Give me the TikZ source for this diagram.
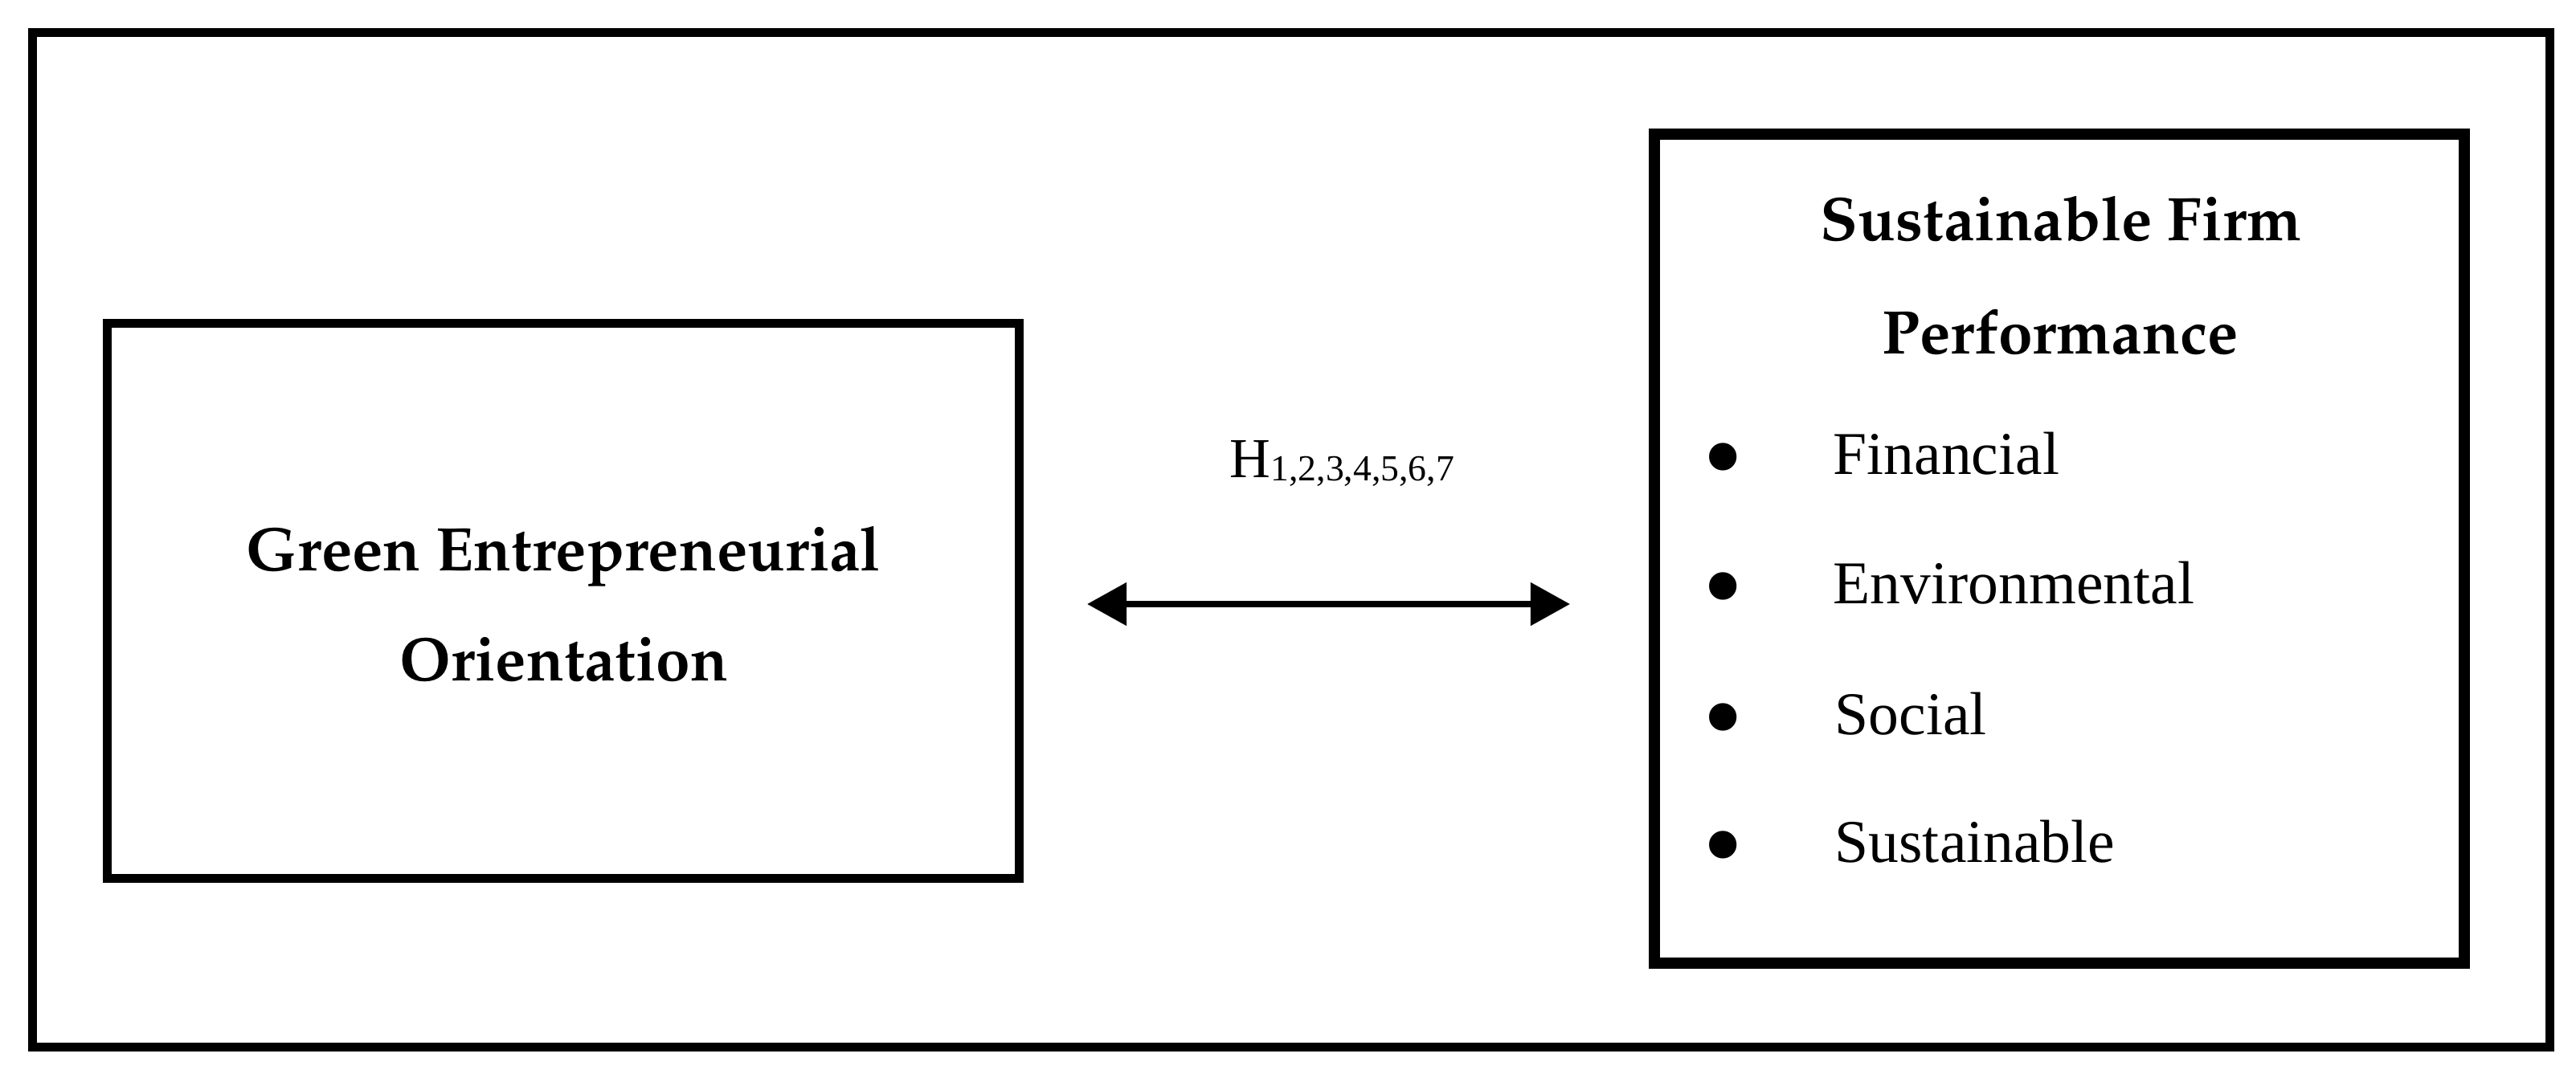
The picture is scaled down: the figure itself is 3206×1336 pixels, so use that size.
\documentclass[tikz,border=0pt]{standalone}
\usepackage[T1,TU]{fontenc}
\usepackage{fontspec}
\setmainfont{Liberation Serif}
\usetikzlibrary{arrows.meta}
\newcommand\palbold{\fontencoding{T1}\fontfamily{ppl}\fontseries{b}\selectfont}
\begin{document}
\begin{tikzpicture}[x=0.01cm,y=-0.01cm,
  box/.style={draw, inner sep=0pt},
  titletext/.style={anchor=base, inner sep=0pt, font=\palbold\fontsize{21.8pt}{26pt}\selectfont},
  itemtext/.style={anchor=base west, inner sep=0pt, font=\fontsize{21.5pt}{26pt}\selectfont},
  bullettext/.style={anchor=center, inner sep=0pt, font=\fontsize{21.5pt}{26pt}\selectfont},
  dblarrow/.style={line width=0.08cm, {Triangle[length=0.49cm,width=0.52cm]}-{Triangle[length=0.49cm,width=0.52cm]}}]
\useasboundingbox (0,0) rectangle (3206,1336);
\node[box, line width=0.115cm, minimum width=31.31cm, minimum height=12.62cm] (frame) at (1607,672) {};
\node[box, line width=0.11cm, minimum width=11.335cm, minimum height=6.915cm] (geo) at (701,748) {};
\node[box, line width=0.14cm, minimum width=10.065cm, minimum height=10.305cm] (sfp) at (2563,683) {};
\node[titletext] (geo1) at (701.5,710) {Green Entrepreneurial};
\node[titletext] (geo2) at (702,847) {Orientation};
\node[titletext] (sfp1) at (2565,299) {Sustainable Firm};
\node[titletext] (sfp2) at (2564,440) {Performance};
\node[bullettext] (b1) at (2145,584) {\scalebox{1.9}{•}};
\node[bullettext] (b2) at (2145,745) {\scalebox{1.9}{•}};
\node[bullettext] (b3) at (2145,908) {\scalebox{1.9}{•}};
\node[bullettext] (b4) at (2145,1067) {\scalebox{1.9}{•}};
\node[itemtext] (i1) at (2281,590) {Financial};
\node[itemtext] (i2) at (2281,751) {Environmental};
\node[itemtext] (i3) at (2283,914) {Social};
\node[itemtext] (i4) at (2283,1073) {Sustainable};
\node[anchor=base west, inner sep=0pt, font=\fontsize{20pt}{24pt}\selectfont] (hyp) at (1530,594) {H\raisebox{-0.04cm}{\fontsize{13pt}{15pt}\selectfont 1,2,3,4,5,6,7}};
\coordinate (al) at (1353,752);
\coordinate (ar) at (1954,752);
\draw[dblarrow] (al) -- (ar);
\end{tikzpicture}
\end{document}
